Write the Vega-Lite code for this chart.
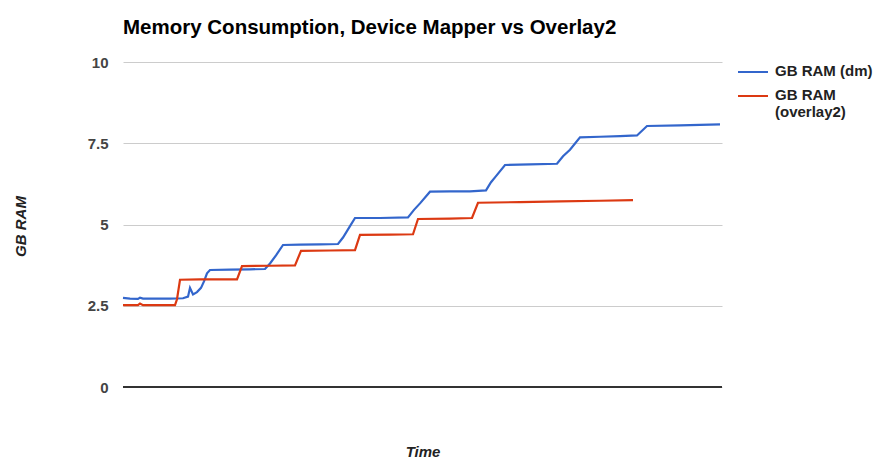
{
  "$schema": "https://vega.github.io/schema/vega-lite/v6.json",
  "width": 599,
  "height": 325,
  "autosize": "none",
  "padding": {"left": 123, "top": 62, "right": 165, "bottom": 81},
  "background": "white",
  "title": {
    "text": "Memory Consumption, Device Mapper vs Overlay2",
    "anchor": "start",
    "frame": "group",
    "font": "Liberation Sans",
    "fontSize": 20.5,
    "fontWeight": "bold",
    "color": "#000000",
    "offset": 17
  },
  "config": {
    "view": {"stroke": null},
    "font": "Liberation Sans"
  },
  "data": {
    "values": [
      {"series": "GB RAM (dm)", "t": 0, "v": 2.74},
      {"series": "GB RAM (dm)", "t": 7, "v": 2.72},
      {"series": "GB RAM (dm)", "t": 15, "v": 2.71},
      {"series": "GB RAM (dm)", "t": 17, "v": 2.75},
      {"series": "GB RAM (dm)", "t": 20, "v": 2.72},
      {"series": "GB RAM (dm)", "t": 27, "v": 2.72},
      {"series": "GB RAM (dm)", "t": 47, "v": 2.72},
      {"series": "GB RAM (dm)", "t": 60, "v": 2.73},
      {"series": "GB RAM (dm)", "t": 65, "v": 2.78},
      {"series": "GB RAM (dm)", "t": 67, "v": 3.05},
      {"series": "GB RAM (dm)", "t": 70, "v": 2.85},
      {"series": "GB RAM (dm)", "t": 74, "v": 2.92},
      {"series": "GB RAM (dm)", "t": 78, "v": 3.05},
      {"series": "GB RAM (dm)", "t": 81, "v": 3.25},
      {"series": "GB RAM (dm)", "t": 84, "v": 3.5},
      {"series": "GB RAM (dm)", "t": 87, "v": 3.6},
      {"series": "GB RAM (dm)", "t": 107, "v": 3.61},
      {"series": "GB RAM (dm)", "t": 127, "v": 3.62},
      {"series": "GB RAM (dm)", "t": 142, "v": 3.63},
      {"series": "GB RAM (dm)", "t": 147, "v": 3.8},
      {"series": "GB RAM (dm)", "t": 153, "v": 4.05},
      {"series": "GB RAM (dm)", "t": 160, "v": 4.37},
      {"series": "GB RAM (dm)", "t": 177, "v": 4.38},
      {"series": "GB RAM (dm)", "t": 197, "v": 4.39},
      {"series": "GB RAM (dm)", "t": 215, "v": 4.4},
      {"series": "GB RAM (dm)", "t": 220, "v": 4.6},
      {"series": "GB RAM (dm)", "t": 227, "v": 4.95},
      {"series": "GB RAM (dm)", "t": 232, "v": 5.2},
      {"series": "GB RAM (dm)", "t": 257, "v": 5.2},
      {"series": "GB RAM (dm)", "t": 285, "v": 5.22},
      {"series": "GB RAM (dm)", "t": 291, "v": 5.45},
      {"series": "GB RAM (dm)", "t": 297, "v": 5.65},
      {"series": "GB RAM (dm)", "t": 307, "v": 6.01},
      {"series": "GB RAM (dm)", "t": 327, "v": 6.02},
      {"series": "GB RAM (dm)", "t": 347, "v": 6.02},
      {"series": "GB RAM (dm)", "t": 363, "v": 6.05},
      {"series": "GB RAM (dm)", "t": 368, "v": 6.3},
      {"series": "GB RAM (dm)", "t": 372, "v": 6.45},
      {"series": "GB RAM (dm)", "t": 382, "v": 6.83},
      {"series": "GB RAM (dm)", "t": 407, "v": 6.85},
      {"series": "GB RAM (dm)", "t": 434, "v": 6.87},
      {"series": "GB RAM (dm)", "t": 440, "v": 7.1},
      {"series": "GB RAM (dm)", "t": 447, "v": 7.3},
      {"series": "GB RAM (dm)", "t": 457, "v": 7.68},
      {"series": "GB RAM (dm)", "t": 477, "v": 7.7},
      {"series": "GB RAM (dm)", "t": 497, "v": 7.72},
      {"series": "GB RAM (dm)", "t": 514, "v": 7.74},
      {"series": "GB RAM (dm)", "t": 524, "v": 8.03},
      {"series": "GB RAM (dm)", "t": 557, "v": 8.05},
      {"series": "GB RAM (dm)", "t": 597, "v": 8.08},
      {"series": "GB RAM (overlay2)", "t": 0, "v": 2.52},
      {"series": "GB RAM (overlay2)", "t": 15, "v": 2.52},
      {"series": "GB RAM (overlay2)", "t": 17, "v": 2.57},
      {"series": "GB RAM (overlay2)", "t": 20, "v": 2.52},
      {"series": "GB RAM (overlay2)", "t": 52, "v": 2.52},
      {"series": "GB RAM (overlay2)", "t": 54, "v": 2.7},
      {"series": "GB RAM (overlay2)", "t": 57, "v": 3.3},
      {"series": "GB RAM (overlay2)", "t": 77, "v": 3.31},
      {"series": "GB RAM (overlay2)", "t": 114, "v": 3.31},
      {"series": "GB RAM (overlay2)", "t": 119, "v": 3.72},
      {"series": "GB RAM (overlay2)", "t": 147, "v": 3.73},
      {"series": "GB RAM (overlay2)", "t": 172, "v": 3.74},
      {"series": "GB RAM (overlay2)", "t": 178, "v": 4.19},
      {"series": "GB RAM (overlay2)", "t": 207, "v": 4.2},
      {"series": "GB RAM (overlay2)", "t": 232, "v": 4.21},
      {"series": "GB RAM (overlay2)", "t": 237, "v": 4.68},
      {"series": "GB RAM (overlay2)", "t": 267, "v": 4.69},
      {"series": "GB RAM (overlay2)", "t": 290, "v": 4.7},
      {"series": "GB RAM (overlay2)", "t": 295, "v": 5.17},
      {"series": "GB RAM (overlay2)", "t": 327, "v": 5.18},
      {"series": "GB RAM (overlay2)", "t": 349, "v": 5.2},
      {"series": "GB RAM (overlay2)", "t": 355, "v": 5.67},
      {"series": "GB RAM (overlay2)", "t": 397, "v": 5.69},
      {"series": "GB RAM (overlay2)", "t": 437, "v": 5.71},
      {"series": "GB RAM (overlay2)", "t": 477, "v": 5.73},
      {"series": "GB RAM (overlay2)", "t": 510, "v": 5.75}
    ]
  },
  "layer": [
    {
      "mark": {"type": "line", "strokeWidth": 2.2, "interpolate": "linear"},
      "encoding": {
        "x": {
          "field": "t",
          "type": "quantitative",
          "scale": {"domain": [0, 599], "nice": false, "zero": false},
          "axis": {
            "labels": false,
            "ticks": false,
            "domain": false,
            "grid": false,
            "title": "Time",
            "titleFont": "Liberation Sans",
            "titleFontSize": 15,
            "titleFontStyle": "italic",
            "titleFontWeight": "bold",
            "titleColor": "#222222",
            "titlePadding": 57
          }
        },
        "y": {
          "field": "v",
          "type": "quantitative",
          "scale": {"domain": [0, 10], "nice": false},
          "axis": {
            "values": [0, 2.5, 5, 7.5, 10],
            "format": ".1~f",
            "ticks": false,
            "domain": false,
            "grid": true,
            "gridColor": "#cccccc",
            "gridWidth": 1,
            "labelFont": "Liberation Sans",
            "labelFontSize": 15,
            "labelFontWeight": "bold",
            "labelColor": "#444444",
            "labelPadding": 15,
            "title": "GB RAM",
            "titleFont": "Liberation Sans",
            "titleFontSize": 15,
            "titleFontStyle": "italic",
            "titleFontWeight": "bold",
            "titleColor": "#222222",
            "titleAngle": -90,
            "titleX": -103,
            "titleY": 164,
            "titleAlign": "center",
            "titleBaseline": "middle"
          }
        },
        "color": {
          "field": "series",
          "type": "nominal",
          "scale": {
            "domain": ["GB RAM (dm)", "GB RAM (overlay2)"],
            "range": ["#3366cc", "#dc3912"]
          },
          "legend": {
            "title": null,
            "orient": "none",
            "legendX": 614,
            "legendY": -6,
            "symbolType": "stroke",
            "symbolSize": 900,
            "symbolStrokeWidth": 2,
            "labelOffset": 6,
            "labelFont": "Liberation Sans",
            "labelFontSize": 15,
            "labelFontWeight": "bold",
            "labelColor": "#222222",
            "labelLimit": 200,
            "labelBaseline": "top",
            "labelLineHeight": 20,
            "rowPadding": 1,
            "labelExpr": "datum.label == 'GB RAM (overlay2)' ? ['GB RAM', '(overlay2)'] : datum.label",
            "encode": {"labels": {"update": {"dy": {"value": -8}}}}
          }
        }
      }
    },
    {
      "mark": {"type": "rule", "color": "#333333", "strokeWidth": 1},
      "encoding": {"y": {"datum": 0}}
    }
  ]
}
